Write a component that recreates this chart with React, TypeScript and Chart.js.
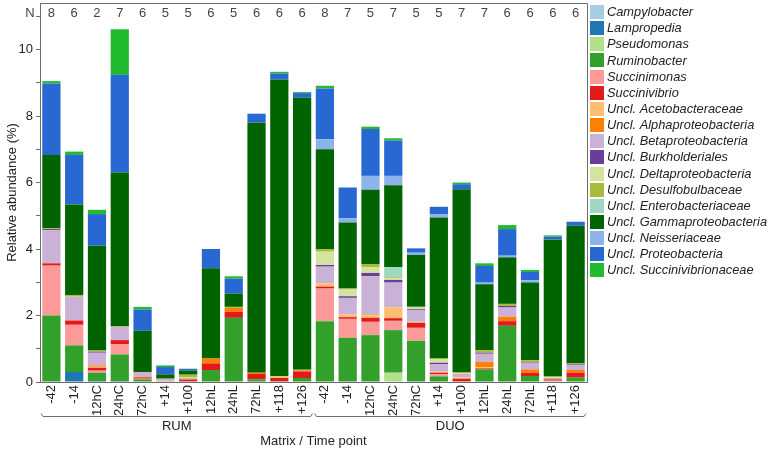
import React, { useEffect, useRef } from 'react';
import { Chart, registerables } from 'chart.js';

Chart.register(...registerables);

const categories = ['-42', '-14', '12hC', '24hC', '72hC', '+14', '+100', '12hL', '24hL', '72hL', '+118', '+126',
  '-42', '-14', '12hC', '24hC', '72hC', '+14', '+100', '12hL', '24hL', '72hL', '+118', '+126'];
const groupNames = ['RUM', 'DUO'];
const groupSizes = [12, 12];
const nValues = [8, 6, 2, 7, 6, 5, 5, 6, 5, 6, 6, 6, 8, 7, 5, 7, 5, 5, 7, 7, 6, 6, 6, 6];
const yTickValues = [0, 1, 2, 3, 4, 5, 6, 7, 8, 9, 10, 11];

const taxa = ['Campylobacter', 'Lampropedia', 'Pseudomonas', 'Ruminobacter', 'Succinimonas', 'Succinivibrio',
  'Uncl. Acetobacteraceae', 'Uncl. Alphaproteobacteria', 'Uncl. Betaproteobacteria', 'Uncl. Burkholderiales',
  'Uncl. Deltaproteobacteria', 'Uncl. Desulfobulbaceae', 'Uncl. Enterobacteriaceae', 'Uncl. Gammaproteobacteria',
  'Uncl. Neisseriaceae', 'Uncl. Proteobacteria', 'Uncl. Succinivibrionaceae'];
const colors = ['#a6cee3', '#1f78b4', '#b2df8a', '#33a02c', '#fb9a99', '#e31a1c', '#fdbf6f', '#ff7f00', '#cab2d6',
  '#6a3d9a', '#d4e3a0', '#a8bb3a', '#9ed8c0', '#006400', '#8cb4ea', '#2868d2', '#22bb30'];

const campylobacter = [0, 0, 0, 0, 0, 0, 0, 0, 0, 0, 0, 0, 0, 0, 0, 0, 0, 0, 0, 0, 0, 0, 0, 0];
const lampropedia = [0, 0.3, 0.03, 0.03, 0, 0, 0, 0, 0, 0, 0, 0, 0, 0, 0, 0, 0, 0, 0, 0, 0, 0, 0, 0];
const pseudomonas = [0, 0, 0, 0, 0, 0, 0, 0, 0, 0, 0, 0, 0, 0, 0, 0.28, 0, 0, 0, 0, 0, 0, 0, 0];
const ruminobacter = [2.0, 0.8, 0.25, 0.8, 0.08, 0.02, 0.02, 0.36, 1.93, 0.08, 0.02, 0.12,
  1.83, 1.33, 1.41, 1.28, 1.24, 0.17, 0.02, 0.38, 1.69, 0.18, 0.02, 0.13];
const succinimonas = [1.5, 0.62, 0.06, 0.31, 0.02, 0.03, 0, 0, 0, 0, 0, 0,
  0.98, 0.57, 0.4, 0.28, 0.39, 0.06, 0, 0, 0, 0, 0.02, 0];
const succinivibrio = [0.07, 0.13, 0.09, 0.12, 0.04, 0, 0.05, 0.2, 0.18, 0.16, 0.1, 0.2,
  0.06, 0.05, 0.12, 0.08, 0.15, 0.05, 0.08, 0.03, 0.14, 0.1, 0.04, 0.15];
const acetobacteraceae = [0, 0, 0.03, 0, 0, 0, 0, 0, 0, 0, 0.04, 0,
  0.1, 0.08, 0.08, 0.33, 0.03, 0.03, 0.04, 0.04, 0, 0, 0, 0];
const alphaproteobacteria = [0, 0, 0.04, 0, 0.02, 0, 0.02, 0.15, 0.12, 0.04, 0, 0.03,
  0, 0, 0.02, 0, 0, 0, 0, 0.15, 0.13, 0.1, 0, 0.08];
const betaproteobacteria = [1.0, 0.72, 0.38, 0.4, 0.13, 0.05, 0.03, 0, 0, 0, 0, 0,
  0.5, 0.5, 1.15, 0.74, 0.35, 0.22, 0.1, 0.25, 0.28, 0.2, 0.04, 0.15];
const burkholderiales = [0.03, 0, 0.03, 0, 0, 0, 0, 0, 0, 0, 0, 0,
  0.05, 0.05, 0.1, 0.08, 0.03, 0.05, 0, 0.03, 0.05, 0.02, 0, 0.02];
const deltaproteobacteria = [0, 0, 0, 0, 0, 0, 0.03, 0, 0, 0, 0, 0,
  0.4, 0.2, 0.17, 0.05, 0.05, 0.1, 0.03, 0, 0, 0, 0.03, 0];
const desulfobulbaceae = [0.03, 0.05, 0.04, 0.02, 0, 0, 0.07, 0, 0.03, 0, 0.02, 0.02,
  0.08, 0.03, 0.1, 0.03, 0.02, 0.03, 0.03, 0.08, 0.06, 0.06, 0.03, 0.03];
const enterobacteriaceae = [0, 0, 0, 0, 0, 0, 0, 0, 0, 0, 0, 0, 0, 0, 0, 0.3, 0, 0, 0, 0, 0, 0, 0, 0];
const gammaproteobacteria = [2.2, 2.72, 3.15, 4.62, 1.25, 0.13, 0.12, 2.71, 0.4, 7.52, 8.92, 8.18,
  3.0, 1.99, 2.23, 2.47, 1.56, 4.24, 5.5, 1.98, 1.4, 2.33, 4.11, 4.14];
const neisseriaceae = [0, 0, 0, 0, 0, 0, 0, 0, 0, 0, 0, 0,
  0.3, 0.13, 0.42, 0.28, 0.07, 0.09, 0, 0.05, 0.05, 0.07, 0, 0];
const proteobacteria = [2.15, 1.49, 0.95, 2.94, 0.64, 0.22, 0.05, 0.58, 0.45, 0.27, 0.18, 0.14,
  1.53, 0.92, 1.41, 1.06, 0.13, 0.23, 0.15, 0.5, 0.8, 0.25, 0.08, 0.12];
const succinivibrionaceae = [0.07, 0.1, 0.13, 1.37, 0.08, 0.05, 0.01, 0, 0.07, 0, 0.05, 0.03,
  0.08, 0, 0.07, 0.07, 0, 0, 0.05, 0.08, 0.12, 0.06, 0.04, 0];

const series = [campylobacter, lampropedia, pseudomonas, ruminobacter, succinimonas, succinivibrio,
  acetobacteraceae, alphaproteobacteria, betaproteobacteria, burkholderiales, deltaproteobacteria,
  desulfobulbaceae, enterobacteriaceae, gammaproteobacteria, neisseriaceae, proteobacteria, succinivibrionaceae];

const FONT = "'Liberation Sans', Arial, Helvetica, sans-serif";
const TEXT = '#222222';
const LINE = '#6e6e6e';

const App = () => {
  const ref = useRef<HTMLCanvasElement>(null);
  useEffect(() => {
    document.body.style.margin = '0';
    const canvas = ref.current;
    if (!canvas) return;

    const decorPlugin = {
      id: 'decor',
      afterDraw(chart: any) {
        const { ctx, chartArea } = chart;
        const xs = chart.scales.x;
        ctx.save();
        // box top/right
        ctx.strokeStyle = LINE;
        ctx.lineWidth = 1;
        ctx.beginPath();
        ctx.moveTo(chartArea.left, chartArea.top + 0.5);
        ctx.lineTo(chartArea.right + 0.5, chartArea.top + 0.5);
        ctx.lineTo(chartArea.right + 0.5, chartArea.bottom);
        ctx.stroke();

        // N row
        ctx.font = `13px ${FONT}`;
        ctx.fillStyle = '#444';
        ctx.textBaseline = 'middle';
        ctx.textAlign = 'center';
        ctx.fillText('N', chartArea.left - 10, 13);
        nValues.forEach((n, i) => {
          ctx.fillText(String(n), xs.getPixelForValue(i), 13);
        });

        // group brackets
        const step = xs.getPixelForValue(1) - xs.getPixelForValue(0);
        let start = 0;
        groupNames.forEach((g, gi) => {
          const end = start + groupSizes[gi] - 1;
          const x0 = xs.getPixelForValue(start) - step / 2 + 1;
          const x1 = xs.getPixelForValue(end) + step / 2 - 1;
          const by = 416.5;
          ctx.strokeStyle = LINE;
          ctx.beginPath();
          ctx.moveTo(x0, by - 3);
          ctx.lineTo(x0 + 2, by);
          ctx.lineTo(x1 - 2, by);
          ctx.lineTo(x1, by - 3);
          ctx.stroke();
          ctx.fillStyle = TEXT;
          ctx.textAlign = 'center';
          ctx.fillText(g, (x0 + x1) / 2, 426);
          start = end + 1;
        });

        // legend
        const lx = 590;
        const ly0 = 12;
        const lstep = 16.15;
        ctx.font = `italic 12.8px ${FONT}`;
        ctx.textAlign = 'left';
        taxa.forEach((t, i) => {
          const y = ly0 + i * lstep;
          ctx.fillStyle = colors[i];
          ctx.fillRect(lx, Math.round(y - 7), 14, 14);
          ctx.fillStyle = TEXT;
          ctx.fillText(t, lx + 17, y + 0.5);
        });
        ctx.restore();
      },
    };

    const chart = new Chart(canvas, {
      type: 'bar',
      data: {
        labels: categories,
        datasets: taxa.map((t, i) => ({
          label: t,
          data: series[i],
          backgroundColor: colors[i],
          borderWidth: 0,
          barPercentage: 0.8,
          categoryPercentage: 1,
        })),
      },
      options: {
        responsive: false,
        animation: false,
        layout: { padding: { left: 0, top: 3, right: 180, bottom: 0 } },
        plugins: { legend: { display: false }, tooltip: { enabled: false } },
        scales: {
          x: {
            stacked: true,
            grid: { display: false, drawTicks: false },
            border: { display: true, color: LINE },
            ticks: {
              minRotation: 90, maxRotation: 90, autoSkip: false,
              font: { size: 13, family: FONT }, color: TEXT, padding: 3,
            },
            title: {
              display: true, text: 'Matrix / Time point',
              font: { size: 13, family: FONT }, color: TEXT, padding: { top: 0, bottom: 3 },
            },
            afterFit: (s: any) => { s.height = 70; s.paddingLeft = 0; s.paddingRight = 0; },
          },
          y: {
            stacked: true,
            min: 0,
            max: 11.4,
            afterBuildTicks: (a: any) => { a.ticks = yTickValues.map((v) => ({ value: v })); },
            ticks: {
              callback: (v: any) => (Number(v) % 2 === 0 ? String(v) : ''),
              font: { size: 13, family: FONT }, color: TEXT, padding: 3,
            },
            grid: { drawOnChartArea: false, tickLength: 4, color: LINE },
            border: { color: LINE },
            title: {
              display: true, text: 'Relative abundance (%)',
              font: { size: 13, family: FONT }, color: TEXT, padding: { top: 5, bottom: 0 },
            },
            afterFit: (s: any) => { s.width = 40; s.paddingTop = 0; s.paddingBottom = 0; },
          },
        },
      },
      plugins: [decorPlugin],
    });
    return () => chart.destroy();
  }, []);
  return <canvas ref={ref} width={767} height={452} style={{ display: 'block' }} />;
};

export default App;
